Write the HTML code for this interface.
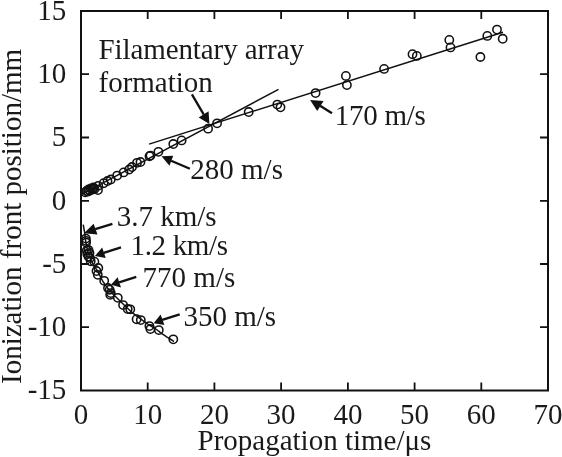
<!DOCTYPE html>
<html><head><meta charset="utf-8"><style>
html,body{margin:0;padding:0;background:#fff;width:562px;height:457px;overflow:hidden}
svg{display:block;will-change:transform}
text{font-family:"Liberation Serif",serif;font-size:29px;fill:#1a1a1a}
</style></head><body>
<svg width="562" height="457" viewBox="0 0 562 457">
<rect x="81" y="11" width="467" height="379.5" fill="none" stroke="#111" stroke-width="2"/>
<path d="M147.7 390.5V382.5M147.7 11V19M214.4 390.5V382.5M214.4 11V19M281.1 390.5V382.5M281.1 11V19M347.9 390.5V382.5M347.9 11V19M414.6 390.5V382.5M414.6 11V19M481.3 390.5V382.5M481.3 11V19M81 327.2H89M548 327.2H540M81 264.0H89M548 264.0H540M81 200.8H89M548 200.8H540M81 137.5H89M548 137.5H540M81 74.2H89M548 74.2H540" stroke="#111" stroke-width="1.8" fill="none"/>
<text x="81.0" y="423.7" text-anchor="middle">0</text>
<text x="147.7" y="423.7" text-anchor="middle">10</text>
<text x="214.4" y="423.7" text-anchor="middle">20</text>
<text x="281.1" y="423.7" text-anchor="middle">30</text>
<text x="347.9" y="423.7" text-anchor="middle">40</text>
<text x="414.6" y="423.7" text-anchor="middle">50</text>
<text x="481.3" y="423.7" text-anchor="middle">60</text>
<text x="548.0" y="423.7" text-anchor="middle">70</text>
<text x="66.3" y="399.4" text-anchor="end">-15</text>
<text x="66.3" y="336.1" text-anchor="end">-10</text>
<text x="66.3" y="272.9" text-anchor="end">-5</text>
<text x="66.3" y="209.7" text-anchor="end">0</text>
<text x="66.3" y="146.4" text-anchor="end">5</text>
<text x="66.3" y="83.2" text-anchor="end">10</text>
<text x="66.3" y="19.9" text-anchor="end">15</text>
<text x="197.5" y="450">Propagation time/μs</text>
<text transform="translate(21,384) rotate(-90)">Ionization front position/mm</text>
<g stroke="#111" stroke-width="1.5" fill="none">
<line x1="81.5" y1="194.3" x2="278.5" y2="89.3"/>
<line x1="149.1" y1="144.1" x2="503" y2="32.3"/>
<polyline points="83.2,224.6 83.3,225.2 83.5,225.9 83.6,226.8 83.8,227.8 84.0,228.9 84.2,230.0 84.4,231.1 84.6,232.2 84.7,233.3 84.9,234.4 85.0,235.6 85.1,236.8 85.2,238.1 85.4,239.3 85.6,240.7 85.8,242.0 86.1,243.4 86.3,244.9 86.6,246.5 87.0,248.0 87.3,249.6 87.7,251.1 88.1,252.6 88.5,254.0 89.0,255.3 89.4,256.5 90.0,257.7 90.5,258.9 91.1,260.0 91.6,261.1 92.2,262.2 92.8,263.3 93.4,264.4 94.0,265.5 94.7,266.5 95.3,267.6 96.0,268.7 96.7,269.7 97.3,270.9 98.0,272.0 98.6,273.2 99.3,274.4 99.9,275.7 100.6,277.0 101.2,278.3 101.9,279.5 102.6,280.8 103.3,282.0 104.1,283.2 104.8,284.3 105.7,285.5 106.5,286.6 107.3,287.7 108.2,288.8 109.1,289.9 110.0,291.0 110.9,292.0 111.8,293.0 112.7,293.9 113.7,294.8 114.6,295.8 115.7,296.8 116.8,297.8 118.0,299.0 119.3,300.3 120.8,301.7 122.3,303.2 123.9,304.8 125.5,306.3 127.0,307.8 128.6,309.2 130.0,310.5 131.3,311.7 132.6,312.8 133.9,313.8 135.1,314.8 136.3,315.7 137.5,316.7 138.8,317.6 140.0,318.5 141.3,319.4 142.6,320.4 143.9,321.3 145.2,322.2 146.5,323.1 147.7,324.0 148.9,324.8 150.0,325.5 151.0,326.1 151.9,326.7 152.7,327.2 153.5,327.7 154.3,328.1 155.0,328.5 155.8,329.0 156.5,329.5 157.2,330.0 157.8,330.5 158.4,330.9 159.0,331.4 159.6,331.9 160.3,332.5 161.1,333.1 162.1,333.8 163.4,334.7 164.9,335.7 166.6,336.8 168.4,337.9 170.1,339.0 171.7,340.0 173.0,340.9 174.0,341.5"/>
</g>
<g stroke="#111" stroke-width="1.55" fill="none">
<circle cx="85.2" cy="192.3" r="4.15"/>
<circle cx="86.5" cy="191" r="4.15"/>
<circle cx="88" cy="191.5" r="4.15"/>
<circle cx="88.5" cy="189.5" r="4.15"/>
<circle cx="90" cy="190.5" r="4.15"/>
<circle cx="91" cy="188.5" r="4.15"/>
<circle cx="92.5" cy="189.5" r="4.15"/>
<circle cx="93.5" cy="187.5" r="4.15"/>
<circle cx="94.5" cy="189" r="4.15"/>
<circle cx="98.2" cy="185.8" r="4.15"/>
<circle cx="98" cy="190" r="4.15"/>
<circle cx="103.6" cy="183.2" r="4.15"/>
<circle cx="107.5" cy="181" r="4.15"/>
<circle cx="110.8" cy="179.5" r="4.15"/>
<circle cx="117.2" cy="175.6" r="4.15"/>
<circle cx="123.6" cy="172.4" r="4.15"/>
<circle cx="129.2" cy="169.5" r="4.15"/>
<circle cx="132" cy="167" r="4.15"/>
<circle cx="137" cy="162.8" r="4.15"/>
<circle cx="140.5" cy="162" r="4.15"/>
<circle cx="149.5" cy="156.2" r="4.15"/>
<circle cx="150.5" cy="155.6" r="4.15"/>
<circle cx="158.4" cy="151.8" r="4.15"/>
<circle cx="173.3" cy="144" r="4.15"/>
<circle cx="181.6" cy="140.4" r="4.15"/>
<circle cx="208.1" cy="128.7" r="4.15"/>
<circle cx="217.1" cy="123.3" r="4.15"/>
<circle cx="248.7" cy="112" r="4.15"/>
<circle cx="277.3" cy="104.6" r="4.15"/>
<circle cx="280.5" cy="107.3" r="4.15"/>
<circle cx="315.6" cy="93.1" r="4.15"/>
<circle cx="345.9" cy="75.9" r="4.15"/>
<circle cx="346.9" cy="85.1" r="4.15"/>
<circle cx="384.1" cy="68.9" r="4.15"/>
<circle cx="412.5" cy="54.2" r="4.15"/>
<circle cx="416.8" cy="55.9" r="4.15"/>
<circle cx="449.3" cy="39.9" r="4.15"/>
<circle cx="450.5" cy="47.4" r="4.15"/>
<circle cx="480.4" cy="57" r="4.15"/>
<circle cx="487.3" cy="35.9" r="4.15"/>
<circle cx="497" cy="29.6" r="4.15"/>
<circle cx="502.7" cy="38.8" r="4.15"/>
<circle cx="85.8" cy="238.6" r="4.15"/>
<circle cx="85.9" cy="240.8" r="4.15"/>
<circle cx="86.1" cy="242.6" r="4.15"/>
<circle cx="86.8" cy="250.5" r="4.15"/>
<circle cx="88.5" cy="250" r="4.15"/>
<circle cx="87.3" cy="254" r="4.15"/>
<circle cx="89.5" cy="253" r="4.15"/>
<circle cx="88.5" cy="256.5" r="4.15"/>
<circle cx="90" cy="258" r="4.15"/>
<circle cx="90.7" cy="261.2" r="4.15"/>
<circle cx="94.4" cy="261.7" r="4.15"/>
<circle cx="98.3" cy="268" r="4.15"/>
<circle cx="96.5" cy="271" r="4.15"/>
<circle cx="97.8" cy="274.8" r="4.15"/>
<circle cx="104.2" cy="280.8" r="4.15"/>
<circle cx="108" cy="288" r="4.15"/>
<circle cx="109.7" cy="289.7" r="4.15"/>
<circle cx="110.8" cy="293.1" r="4.15"/>
<circle cx="110.2" cy="294.8" r="4.15"/>
<circle cx="117.8" cy="297.8" r="4.15"/>
<circle cx="123.1" cy="305.1" r="4.15"/>
<circle cx="127.7" cy="309" r="4.15"/>
<circle cx="130.3" cy="309.3" r="4.15"/>
<circle cx="136.6" cy="319.2" r="4.15"/>
<circle cx="140.8" cy="320.1" r="4.15"/>
<circle cx="149.4" cy="326.1" r="4.15"/>
<circle cx="150.4" cy="329" r="4.15"/>
<circle cx="158.8" cy="330.1" r="4.15"/>
<circle cx="173.3" cy="339.3" r="4.15"/>
</g>
<line x1="191.9" y1="94.4" x2="203.8" y2="114.6" stroke="#111" stroke-width="2.3"/><polygon points="209.4,123.9 198.7,117.4 208.6,111.2" fill="#111"/>
<line x1="332" y1="113.3" x2="320.1" y2="105.8" stroke="#111" stroke-width="2.3"/><polygon points="310.1,99.9 323.6,101.0 317.2,111.0" fill="#111"/>
<line x1="189.9" y1="168.8" x2="171.1" y2="160.7" stroke="#111" stroke-width="2.3"/><polygon points="161.5,156.3 173.2,155.7 169.5,165.8" fill="#111"/>
<line x1="112.4" y1="223.9" x2="95.3" y2="229.2" stroke="#111" stroke-width="2.3"/><polygon points="84.0,233.3 93.6,223.8 97.5,234.5" fill="#111"/>
<line x1="121" y1="247.3" x2="103.7" y2="252.8" stroke="#111" stroke-width="2.3"/><polygon points="94.9,256.0 102.2,247.5 105.7,257.9" fill="#111"/>
<line x1="136.3" y1="276.9" x2="119.1" y2="282.4" stroke="#111" stroke-width="2.3"/><polygon points="111.0,284.8 117.6,277.2 121.0,287.5" fill="#111"/>
<line x1="179.7" y1="314.4" x2="162.2" y2="319.9" stroke="#111" stroke-width="2.3"/><polygon points="153.6,323.2 160.6,314.6 164.4,325.0" fill="#111"/>
<text x="98.5" y="59" textLength="205.4" lengthAdjust="spacing">Filamentary array</text>
<text x="98.5" y="92">formation</text>
<text x="334.8" y="124.6" textLength="91" lengthAdjust="spacing">170 m/s</text>
<text x="190.3" y="179.1">280 m/s</text>
<text x="116.7" y="226.1">3.7 km/s</text>
<text x="130.5" y="254.5" textLength="97.6" lengthAdjust="spacing">1.2 km/s</text>
<text x="142.6" y="287.3">770 m/s</text>
<text x="183.4" y="325.9">350 m/s</text>
</svg></body></html>
